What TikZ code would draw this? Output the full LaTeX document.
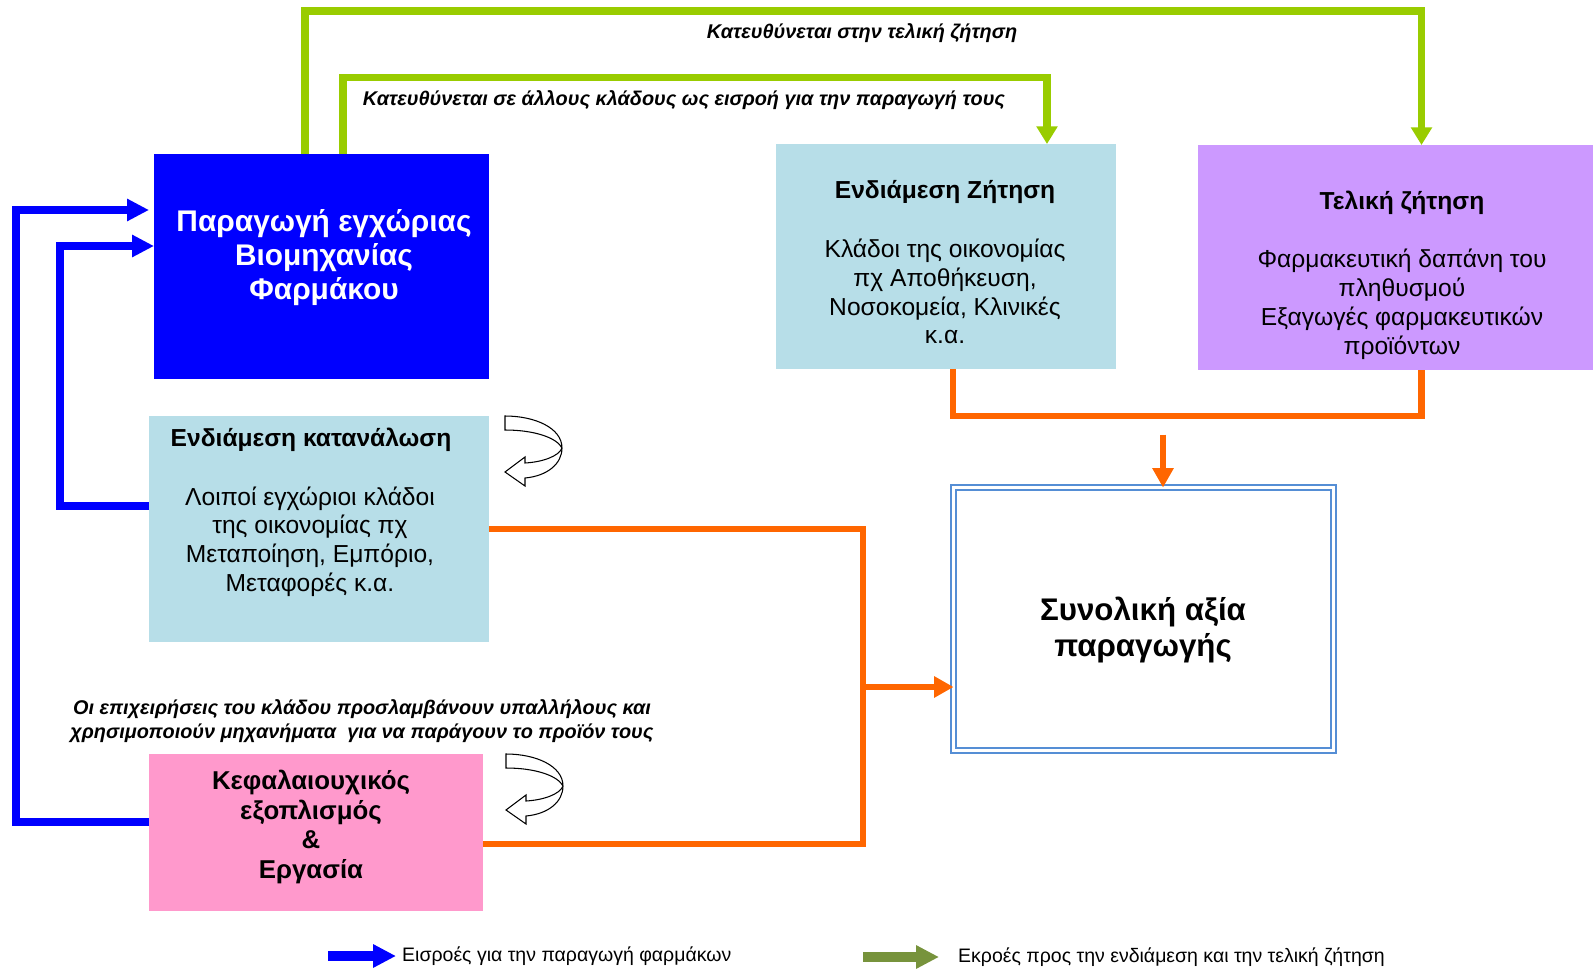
\documentclass[tikz,border=0pt]{standalone}
\usepackage{fontspec}
\setmainfont{Liberation Sans}
\usetikzlibrary{arrows.meta,calc}

\definecolor{flowgreen}{RGB}{153,204,0}
\definecolor{keygreen}{RGB}{119,147,60}
\definecolor{flowblue}{RGB}{0,0,255}
\definecolor{floworange}{RGB}{255,102,0}
\definecolor{aquabox}{RGB}{183,222,232}
\definecolor{lilacbox}{RGB}{204,153,255}
\definecolor{pinkbox}{RGB}{255,153,204}
\definecolor{frameblue}{RGB}{85,142,213}

\tikzset{
  boxfill/.style={rectangle,inner sep=0pt,outer sep=0pt},
  headtxt/.style={align=center,font=\fontsize{14}{16.5}\selectfont\bfseries},
  bodytxt/.style={align=center,font=\fontsize{14}{16.4}\selectfont},
  flowlbl/.style={align=center,font=\fontsize{11.3}{13.6}\selectfont\bfseries\itshape},
  legendtxt/.style={anchor=west,font=\fontsize{11.1}{14}\selectfont},
  greenflow/.style={draw=flowgreen,line width=4.5pt,-{Triangle[length=10pt,width=11.5pt]}},
  blueflow/.style={draw=flowblue,line width=4.2pt,-{Triangle[length=12.5pt,width=12pt]}},
  orangeflow/.style={draw=floworange,line width=3.7pt},
  orangetip/.style={orangeflow,-{Triangle[length=11pt,width=11.5pt]}},
  keyblue/.style={draw=flowblue,line width=5.2pt,-{Triangle[length=13pt,width=12.5pt]}},
  keygreenarrow/.style={draw=keygreen,line width=5.5pt,-{Triangle[length=13pt,width=12.5pt]}},
  loopback/.pic={
    \draw[black,line width=0.6pt,fill=white]
      (0,14) -- (0,0) .. controls (30,0) and (57,12) .. (57,32)
      .. controls (57,48) and (42,60) .. (20,62) -- (20,70) -- (0,56)
      -- (20,41) -- (20,47) .. controls (38,46) and (54,40) .. (57,32)
      .. controls (52,22) and (30,14) .. (0,14) -- cycle;
  }
}

\begin{document}
\begin{tikzpicture}[x=0.02cm,y=-0.02cm]
  \useasboundingbox (0,0) rectangle (1593,970);

  % boxes
  \node[boxfill,fill=flowblue,minimum width=6.7cm,minimum height=4.5cm] (prod) at (321.5,266.5) {};
  \node[boxfill,fill=aquabox,minimum width=6.8cm,minimum height=4.52cm] (intcons) at (319,529) {};
  \node[boxfill,fill=pinkbox,minimum width=6.68cm,minimum height=3.14cm] (capital) at (316,832.5) {};
  \node[boxfill,fill=aquabox,minimum width=6.8cm,minimum height=4.5cm] (intdem) at (946,256.5) {};
  \node[boxfill,fill=lilacbox,minimum width=7.9cm,minimum height=4.5cm] (finaldem) at (1395.5,257.5) {};
  \node[boxfill,draw=frameblue,double=white,line width=1.1pt,double distance=1.6pt,
        minimum width=7.6cm,minimum height=5.26cm] (total) at (1143.5,619) {};

  % outputs towards demand
  \draw[greenflow] ($(prod.north west)+(151,0)$) |- ($(finaldem.north)+(26,-134)$)
                   -- ($(finaldem.north)+(26,0)$);
  \draw[greenflow] ($(prod.north west)+(189,0)$) |- ($(intdem.north)+(101,-66.5)$)
                   -- ($(intdem.north)+(101,0)$);

  % inputs back to production
  \draw[blueflow] ($(capital.west)+(0,-10.5)$) -| ($(prod.west)+(-138,-56.5)$)
                  -- ($(prod.west)+(-5,-56.5)$);
  \draw[blueflow] ($(intcons.west)+(0,-23)$) -| ($(prod.west)+(-94,-20.5)$)
                  -- ($(prod.west)+(0,-20.5)$);

  % value of production
  \coordinate (busjoin) at ($(total.west)+(-90.5,68)$);
  \coordinate (demjoin) at ($(total.north)+(19.5,-53)$);
  \draw[orangeflow] (intcons.east) -| (busjoin) |- ($(capital.east)+(0,11.5)$);
  \draw[orangetip] (busjoin) -- ($(total.west)+(0,68)$);
  \draw[orangeflow] ($(intdem.south)+(7,0)$) |- ($(finaldem.south)+(26,46)$)
                    -- ($(finaldem.south)+(26,0)$);
  \draw[orangetip] (demjoin) -- ($(total.north)+(19.5,0)$);

  \pic at (505,416) {loopback};
  \pic at (506,754) {loopback};

  % texts
  \node[font=\fontsize{17}{19.3}\selectfont\bfseries,text=white,align=center] (prodtxt)
       at (324,257.5) {Παραγωγή εγχώριας\\Βιομηχανίας\\Φαρμάκου};
  \node[headtxt] (intconshead) at (311,440) {Ενδιάμεση κατανάλωση};
  \node[bodytxt] (intconsbody) at (310,541.5) {Λοιποί εγχώριοι κλάδοι\\της οικονομίας πχ\\Μεταποίηση, Εμπόριο,\\Μεταφορές κ.α.};
  \node[headtxt] (intdemhead) at (945,192) {Ενδιάμεση Ζήτηση};
  \node[bodytxt] (intdembody) at (945,291.5) {Κλάδοι της οικονομίας\\πχ Αποθήκευση,\\Νοσοκομεία, Κλινικές\\κ.α.};
  \node[headtxt] (finaldemhead) at (1402,203) {Τελική ζήτηση};
  \node[bodytxt] (finaldembody) at (1402,304.5) {Φαρμακευτική δαπάνη του\\πληθυσμού\\Εξαγωγές φαρμακευτικών\\προϊόντων};
  \node[headtxt,font=\fontsize{14.7}{16.8}\selectfont\bfseries] (capitaltxt)
       at (311,827) {Κεφαλαιουχικός\\εξοπλισμός\\\&\\Εργασία};
  \node[font=\fontsize{17.8}{21}\selectfont\bfseries,align=center] (totaltxt)
       at (1143,630) {Συνολική αξία\\παραγωγής};

  \node[flowlbl] (finallbl) at (862,33) {Κατευθύνεται στην τελική ζήτηση};
  \node[flowlbl] (intlbl) at (684,100) {Κατευθύνεται σε άλλους κλάδους ως εισροή για την παραγωγή τους};
  \node[flowlbl] (firmlbl) at (362,721) {Οι επιχειρήσεις του κλάδου προσλαμβάνουν υπαλλήλους και\\χρησιμοποιούν μηχανήματα\ \ για να παράγουν το προϊόν τους};

  % legend
  \coordinate (inkey) at (328,956);
  \coordinate (outkey) at (863,957);
  \node[legendtxt] (inlegend) at (396,956) {Εισροές για την παραγωγή φαρμάκων};
  \node[legendtxt] (outlegend) at (952,957) {Εκροές προς την ενδιάμεση και την τελική ζήτηση};
  \draw[keyblue] (inkey) -- (inlegend.west);
  \draw[keygreenarrow] (outkey) -- ($(outlegend.west)+(-13,0)$);
\end{tikzpicture}
\end{document}
